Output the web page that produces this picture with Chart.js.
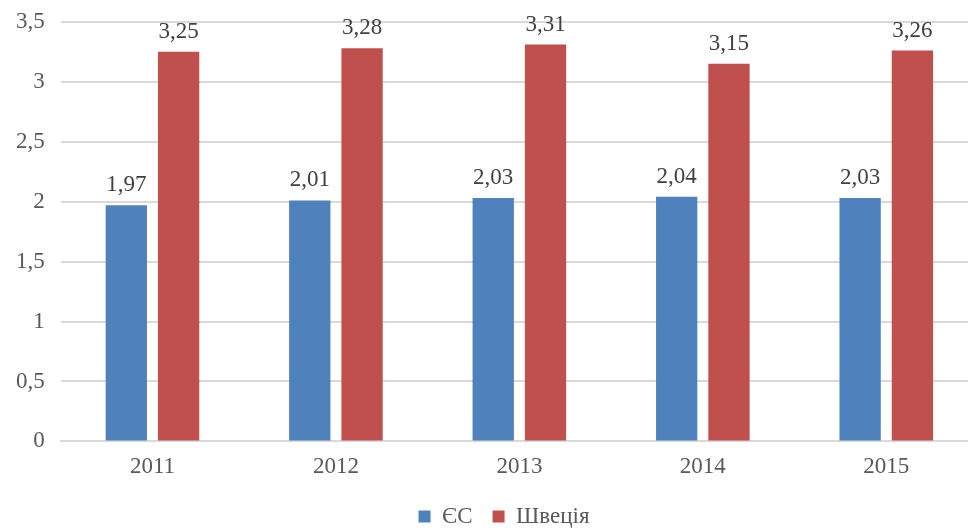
<!DOCTYPE html>
<html>
<head>
<meta charset="utf-8">
<script src="https://cdn.jsdelivr.net/npm/chart.js@4"></script>
<style>
  html, body { margin: 0; padding: 0; background: #fff; overflow: hidden; }
  #wrap { width: 978px; height: 536px; margin-top: -8px; }
</style>
</head>
<body>
<div id="wrap"><canvas id="chart1"></canvas></div>
<script>
const years = ["2011", "2012", "2013", "2014", "2015"];
const euValues = [1.97, 2.01, 2.03, 2.04, 2.03];
const swedenValues = [3.25, 3.28, 3.31, 3.15, 3.26];
const seriesNames = ["ЄС", "Швеція"];
const seriesColors = ["#4f81bd", "#c0504d"];

const fontFamily = "'Times New Roman', 'Liberation Serif', 'DejaVu Serif', serif";
const textColor = '#595959';

// values above the bars, with comma decimals
const valueLabels = {
    id: 'valueLabels',
    afterDatasetsDraw(chart) {
        const ctx = chart.ctx;
        ctx.save();
        ctx.font = '23px ' + fontFamily;
        ctx.fillStyle = '#404040';
        ctx.textAlign = 'center';
        ctx.textBaseline = 'alphabetic';
        chart.data.datasets.forEach((ds, i) => {
            chart.getDatasetMeta(i).data.forEach((bar, j) => {
                ctx.fillText(ds.data[j].toFixed(2).replace('.', ','), bar.x, bar.y - 14);
            });
        });
        ctx.restore();
    }
};

// nudge the legend a bit to the right
const legendShift = {
    id: 'legendShift',
    afterLayout(chart) {
        if (chart.legend) {
            chart.legend.left += 15;
            chart.legend.right += 15;
        }
    }
};

new Chart("chart1", {
    type: "bar",
    data: {
        labels: years,
        datasets: [{
            label: seriesNames[0],
            backgroundColor: seriesColors[0],
            data: euValues
        }, {
            label: seriesNames[1],
            backgroundColor: seriesColors[1],
            data: swedenValues
        }]
    },
    options: {
        responsive: true,
        maintainAspectRatio: false,
        animation: false,
        barPercentage: 0.79,
        categoryPercentage: 0.57,
        layout: { padding: { top: -13, left: 0, right: 0, bottom: -10 } },
        scales: {
            x: {
                grid: { display: false },
                border: { color: '#d9d9d9', width: 2 },
                ticks: { color: textColor, font: { family: fontFamily, size: 23 }, padding: 4 }
            },
            y: {
                min: 0,
                max: 3.5,
                grid: { color: '#d9d9d9', lineWidth: 2, drawTicks: false },
                border: { display: false },
                ticks: {
                    stepSize: 0.5,
                    color: textColor,
                    padding: 16,
                    font: { family: fontFamily, size: 23 },
                    callback: v => String(v).replace('.', ',')
                }
            }
        },
        plugins: {
            legend: {
                position: 'bottom',
                labels: {
                    color: textColor,
                    font: { family: fontFamily, size: 23 },
                    boxWidth: 12,
                    boxHeight: 12,
                    padding: 20
                }
            },
            tooltip: { enabled: false }
        }
    },
    plugins: [valueLabels, legendShift]
});
</script>
</body>
</html>
